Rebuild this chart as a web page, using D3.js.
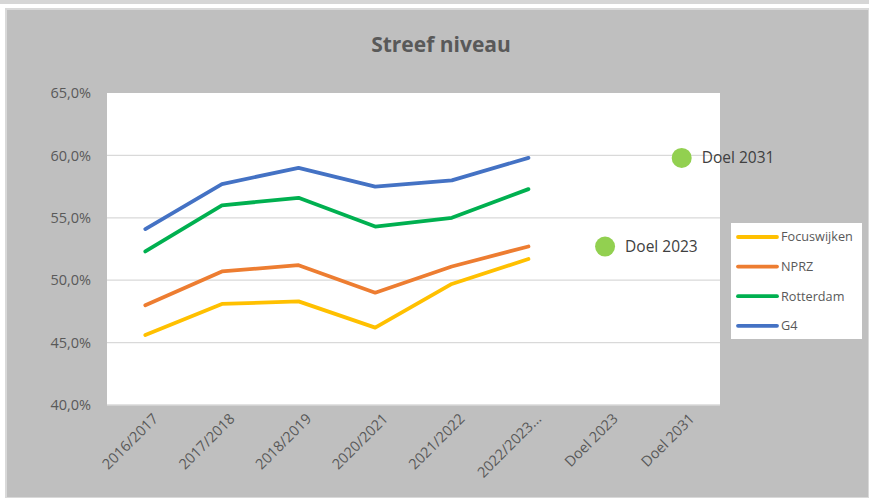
<!DOCTYPE html>
<html>
<head>
<meta charset="utf-8">
<script src="https://cdn.jsdelivr.net/npm/d3@7"></script>
<style>
  body { margin: 0; background: #ffffff; }
  svg { display: block; font-family: "Open Sans", "Noto Sans", sans-serif; }
</style>
</head>
<body>
<svg width="869" height="498"></svg>
<script>
// categories on the x axis
var categories = ["2016/2017", "2017/2018", "2018/2019", "2020/2021", "2021/2022", "2022/2023...", "Doel 2023", "Doel 2031"];
var yTicks = [40, 45, 50, 55, 60, 65];

// series (percent)
var focuswijken = [45.6, 48.1, 48.3, 46.2, 49.7, 51.7];
var nprz        = [48.0, 50.7, 51.2, 49.0, 51.1, 52.7];
var rotterdam   = [52.3, 56.0, 56.6, 54.3, 55.0, 57.3];
var g4          = [54.1, 57.7, 59.0, 57.5, 58.0, 59.8];

// target points
var doelNames  = ["Doel 2023", "Doel 2031"];
var doelValues = [52.7, 59.8];

var seriesNames  = ["Focuswijken", "NPRZ", "Rotterdam", "G4"];
var seriesColors = ["#ffc000", "#ed7d31", "#00b050", "#4472c4"];
var seriesData   = [focuswijken, nprz, rotterdam, g4];

var svg = d3.select("svg");

// outer frame
svg.append("rect").attr("x", 0).attr("y", 0).attr("width", 869).attr("height", 4).attr("fill", "#d6d6d6");
svg.append("rect").attr("x", 6).attr("y", 9).attr("width", 863).attr("height", 489)
    .attr("fill", "#bfbfbf").attr("stroke", "#d9d9d9").attr("stroke-width", 2);

var plot = { left: 107, top: 93, right: 720, bottom: 405 };

var x = d3.scaleBand().domain(categories).range([plot.left, plot.right]);
var y = d3.scaleLinear().domain([40, 65]).range([plot.bottom, plot.top]);
var cx = function(c) { return x(c) + x.bandwidth() / 2; };

svg.append("rect")
    .attr("x", plot.left).attr("y", plot.top)
    .attr("width", plot.right - plot.left).attr("height", plot.bottom - plot.top)
    .attr("fill", "#ffffff");

// gridlines
svg.append("g")
  .selectAll("line")
  .data(yTicks.filter(function(d) { return d < 65; }))
  .enter().append("line")
    .attr("x1", plot.left).attr("x2", plot.right)
    .attr("y1", function(d) { return y(d); })
    .attr("y2", function(d) { return y(d); })
    .attr("stroke", "#d9d9d9").attr("stroke-width", 1.3);

// title
svg.append("text")
    .attr("x", 441).attr("y", 52)
    .attr("text-anchor", "middle")
    .attr("fill", "#595959")
    .style("font-size", "21px").style("font-weight", "bold")
    .text("Streef niveau");

// y axis labels
var yAxis = d3.axisLeft(y).tickValues(yTicks).tickSize(0).tickPadding(16)
    .tickFormat(function(d) { return d.toFixed(1).replace(".", ",") + "%"; });
var gy = svg.append("g").attr("transform", "translate(" + plot.left + ",0)").call(yAxis);
gy.select(".domain").remove();
gy.selectAll("text").attr("fill", "#595959").style("font-size", "14.5px")
    .style("font-family", "\"Open Sans\", sans-serif");

// x axis labels (rotated)
svg.append("g")
  .selectAll("text")
  .data(categories)
  .enter().append("text")
    .attr("transform", function(d) { return "translate(" + (cx(d) + 6) + ",412) rotate(-45)"; })
    .attr("text-anchor", "end")
    .attr("dy", "0.75em")
    .attr("fill", "#595959")
    .style("font-size", "14.5px")
    .text(function(d) { return d; });

// lines
var line = d3.line()
    .x(function(d, i) { return cx(categories[i]); })
    .y(function(d) { return y(d); });

svg.append("g")
  .selectAll("path")
  .data(seriesData)
  .enter().append("path")
    .attr("d", function(d) { return line(d); })
    .attr("fill", "none")
    .attr("stroke", function(d, i) { return seriesColors[i]; })
    .attr("stroke-width", 3.8)
    .attr("stroke-linecap", "round")
    .attr("stroke-linejoin", "round");

// doel points
var doel = svg.append("g")
  .selectAll("g")
  .data(doelNames)
  .enter().append("g");
doel.append("circle")
    .attr("cx", function(d) { return cx(d); })
    .attr("cy", function(d, i) { return y(doelValues[i]); })
    .attr("r", 10)
    .attr("fill", "#92d050");
doel.append("text")
    .attr("x", function(d) { return cx(d) + 20; })
    .attr("y", function(d, i) { return y(doelValues[i]); })
    .attr("dy", "0.35em")
    .attr("fill", "#404040")
    .style("font-size", "15.5px")
    .text(function(d) { return d; });

// legend
svg.append("rect")
    .attr("x", 731).attr("y", 223).attr("width", 131).attr("height", 116)
    .attr("fill", "#ffffff");
var leg = svg.append("g")
  .selectAll("g")
  .data(seriesNames)
  .enter().append("g")
    .attr("transform", function(d, i) { return "translate(738," + (237 + i * 29.6) + ")"; });
leg.append("line")
    .attr("x1", 0).attr("x2", 39)
    .attr("stroke", function(d, i) { return seriesColors[i]; })
    .attr("stroke-width", 3.8)
    .attr("stroke-linecap", "round");
leg.append("text")
    .attr("x", 43).attr("dy", "0.35em")
    .attr("fill", "#595959")
    .style("font-size", "12.7px")
    .text(function(d) { return d; });
</script>
</body>
</html>
